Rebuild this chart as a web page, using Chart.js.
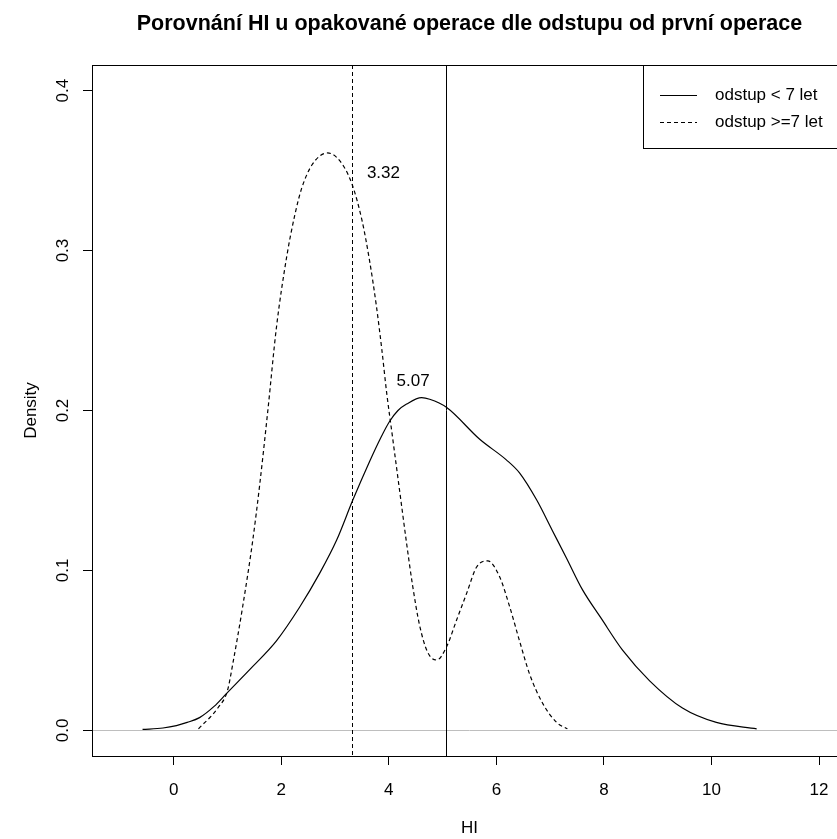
<!DOCTYPE html>
<html>
<head>
<meta charset="utf-8">
<script src="https://cdn.jsdelivr.net/npm/chart.js@4.4.1/dist/chart.umd.min.js"></script>
<style>
  html, body { margin: 0; padding: 0; background: #fff; overflow: hidden; }
  #wrap { width: 860px; height: 839px; position: relative; }
</style>
</head>
<body>
<div id="wrap"><canvas id="densityChart"></canvas></div>
<script>
// odstup < 7 let (plná čára)
const xShort = [-0.58, -0.20, 0.05, 0.25, 0.48, 0.75, 0.98, 1.47, 1.91, 2.34, 2.71, 3.03, 3.33, 3.64, 3.85, 4.01, 4.17, 4.33, 4.61, 4.76, 5.07, 5.69, 6.19, 6.43, 6.75, 7.04, 7.30, 7.60, 7.95, 8.35, 8.85, 9.46, 10.09, 10.84];
const yShort = [0.0006, 0.0015, 0.003, 0.005, 0.008, 0.015, 0.023, 0.040, 0.056, 0.077, 0.098, 0.119, 0.144, 0.168, 0.183, 0.193, 0.200, 0.204, 0.208, 0.207, 0.202, 0.182, 0.169, 0.161, 0.144, 0.125, 0.108, 0.088, 0.070, 0.050, 0.031, 0.014, 0.005, 0.001];

// odstup >=7 let (přerušovaná čára)
const xLong = [0.46, 0.82, 1.00, 1.10, 1.28, 1.47, 1.60, 1.75, 1.91, 2.10, 2.25, 2.38, 2.58, 2.86, 3.09, 3.31, 3.50, 3.64, 3.77, 3.87, 3.96, 4.07, 4.20, 4.33, 4.44, 4.57, 4.72, 4.89, 5.07, 5.26, 5.45, 5.63, 5.84, 6.06, 6.25, 6.43, 6.62, 6.86, 7.12, 7.32];
const yLong = [0.001, 0.014, 0.025, 0.042, 0.077, 0.119, 0.154, 0.200, 0.252, 0.296, 0.322, 0.339, 0.354, 0.361, 0.356, 0.342, 0.319, 0.294, 0.265, 0.238, 0.211, 0.183, 0.150, 0.117, 0.091, 0.066, 0.049, 0.044, 0.052, 0.069, 0.086, 0.102, 0.106, 0.096, 0.077, 0.056, 0.035, 0.017, 0.005, 0.001];

const seriesNames = ['odstup < 7 let', 'odstup >=7 let'];
const seriesDash = [[], [4, 3]];

// mediány + popisky
const medians = [5.07, 3.32];
const medianText = ['5.07', '3.32'];
const medianLabelX = [4.45, 3.90];
const medianLabelY = [0.218, 0.348];

const xTicks = [0, 2, 4, 6, 8, 10, 12];
const yTicks = [0, 0.1, 0.2, 0.3, 0.4];

const titleText = 'Porovnání HI u opakované operace dle odstupu od první operace';
const FONT = "'Liberation Sans', Arial, sans-serif";
Chart.defaults.font.family = FONT;

function toPoints(xs, ys) {
    return xs.map((x, i) => ({ x: x, y: ys[i] }));
}

// vše co R kreslí navíc: rámeček, osa y, nulová čára, mediány, legenda, nadpis
const rPlotExtras = {
    id: 'rPlotExtras',
    beforeDatasetsDraw(chart) {
        const { ctx, chartArea: a, scales: { x, y } } = chart;
        ctx.save();
        // šedá čára y = 0
        ctx.strokeStyle = '#bebebe';
        ctx.lineWidth = 1;
        ctx.beginPath();
        ctx.moveTo(a.left, Math.round(y.getPixelForValue(0)) + 0.5);
        ctx.lineTo(a.right, Math.round(y.getPixelForValue(0)) + 0.5);
        ctx.stroke();
        // svislé čáry mediánů
        ctx.strokeStyle = '#000';
        medians.forEach((m, i) => {
            ctx.setLineDash(seriesDash[i]);
            const px = Math.round(x.getPixelForValue(m)) + 0.5;
            ctx.beginPath();
            ctx.moveTo(px, a.top);
            ctx.lineTo(px, a.bottom);
            ctx.stroke();
        });
        ctx.restore();
    },
    afterDraw(chart) {
        const { ctx, chartArea: a, scales: { x, y } } = chart;
        ctx.save();
        ctx.strokeStyle = '#000';
        ctx.lineWidth = 1;
        ctx.strokeRect(a.left + 0.5, a.top + 0.5, a.right - a.left, a.bottom - a.top);

        // popisky y osy (otočené jako v R)
        ctx.fillStyle = '#000';
        ctx.font = '17px ' + FONT;
        ctx.textAlign = 'center';
        ctx.textBaseline = 'middle';
        yTicks.forEach(v => {
            ctx.save();
            ctx.translate(63, y.getPixelForValue(v));
            ctx.rotate(-Math.PI / 2);
            ctx.fillText(v.toFixed(1), 0, 0);
            ctx.restore();
        });

        // popisky mediánů
        medianText.forEach((t, i) => {
            ctx.fillText(t, x.getPixelForValue(medianLabelX[i]), y.getPixelForValue(medianLabelY[i]));
        });

        // nadpis
        ctx.font = 'bold 21.5px ' + FONT;
        ctx.textBaseline = 'alphabetic';
        ctx.fillText(titleText, (a.left + a.right) / 2, 30);

        // legenda (topright)
        const lw = 204, lh = 83;
        const lx = a.right - lw, ly = a.top;
        ctx.fillStyle = '#fff';
        ctx.fillRect(lx, ly, lw, lh);
        ctx.strokeRect(lx + 0.5, ly + 0.5, lw, lh);
        ctx.font = '17px ' + FONT;
        ctx.textAlign = 'left';
        ctx.textBaseline = 'middle';
        chart.data.datasets.forEach((ds, i) => {
            const rowY = ly + 30 + i * 27;
            ctx.setLineDash(ds.borderDash || []);
            ctx.beginPath();
            ctx.moveTo(lx + 17, rowY + 0.5);
            ctx.lineTo(lx + 54, rowY + 0.5);
            ctx.stroke();
            ctx.setLineDash([]);
            ctx.fillStyle = '#000';
            ctx.fillText(ds.label, lx + 72, rowY);
        });
        ctx.restore();
    }
};

const ctx = document.getElementById('densityChart').getContext('2d');
const chart = new Chart(ctx, {
    type: 'line',
    data: {
        datasets: [
            {
                label: seriesNames[0],
                data: toPoints(xShort, yShort),
                borderColor: '#000',
                borderWidth: 1.2,
                borderDash: seriesDash[0],
                pointRadius: 0,
                cubicInterpolationMode: 'monotone',
                fill: false
            },
            {
                label: seriesNames[1],
                data: toPoints(xLong, yLong),
                borderColor: '#000',
                borderWidth: 1.2,
                borderDash: seriesDash[1],
                pointRadius: 0,
                cubicInterpolationMode: 'monotone',
                fill: false
            }
        ]
    },
    options: {
        responsive: true,
        maintainAspectRatio: false,
        animation: false,
        events: [],
        layout: { padding: { left: 0, right: 13, top: 65, bottom: 0 } },
        plugins: {
            legend: { display: false },
            tooltip: { enabled: false },
            title: { display: false }
        },
        scales: {
            x: {
                type: 'linear',
                min: -1.52,
                max: 12.52,
                afterBuildTicks: s => { s.ticks = xTicks.map(v => ({ value: v })); },
                afterFit: s => { s.height = 83; },
                ticks: { color: '#000', font: { size: 17 }, padding: 15, maxRotation: 0, autoSkip: false },
                grid: { drawOnChartArea: false, drawTicks: true, tickLength: 9, color: '#000' },
                border: { display: true, color: '#000' },
                title: { display: true, text: 'HI', color: '#000', font: { size: 17 }, padding: { top: 0, bottom: 0 } }
            },
            y: {
                type: 'linear',
                min: -0.016,
                max: 0.416,
                afterBuildTicks: s => { s.ticks = yTicks.map(v => ({ value: v })); },
                afterFit: s => { s.width = 92; },
                ticks: { display: false },
                grid: { drawOnChartArea: false, drawTicks: true, tickLength: 9, color: '#000' },
                border: { display: true, color: '#000' },
                title: { display: true, text: 'Density', color: '#000', font: { size: 17 }, padding: { top: 21, bottom: 0 } }
            }
        }
    },
    plugins: [rPlotExtras]
});
</script>
</body>
</html>
